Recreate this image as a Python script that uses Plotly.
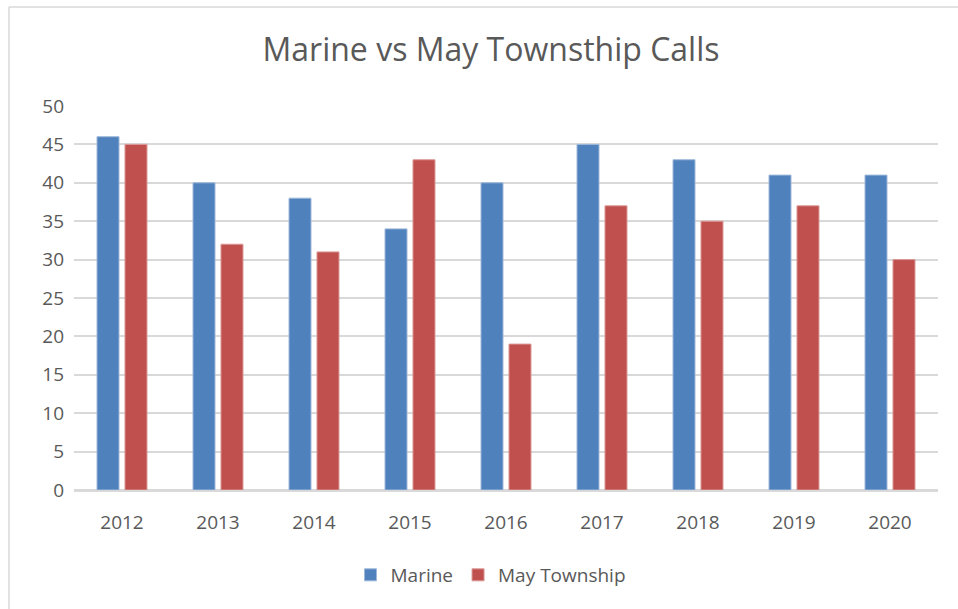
import plotly.graph_objects as go

years = ["2012", "2013", "2014", "2015", "2016", "2017", "2018", "2019", "2020"]
marine = [46, 40, 38, 34, 40, 45, 43, 41, 41]
may_township = [45, 32, 31, 43, 19, 37, 35, 37, 30]
y_ticks = [0, 5, 10, 15, 20, 25, 30, 35, 40, 45, 50]

W, H = 958, 609
L, R, T, B = 74, 20, 106, 119
pw, ph = W - L - R, H - T - B

def px_x(x):
    return (x - L) / pw

def px_y(y):
    return (H - B - y) / ph

font_fam = "Open Sans, Noto Sans, sans-serif"
txt = "#595959"
border = "#D9D9D9"

fig = go.Figure()
fig.add_trace(go.Bar(x=years, y=marine, name="Marine",
                     marker=dict(color="#4F81BD", line=dict(color="#9DB8DA", width=1))))
fig.add_trace(go.Bar(x=years, y=may_township, name="May Township",
                     marker=dict(color="#C0504D", line=dict(color="#DA9896", width=1))))

fig.update_layout(
    width=W, height=H,
    margin=dict(l=L, r=R, t=T, b=B),
    paper_bgcolor="white", plot_bgcolor="white",
    barmode="group", bargap=0.417, bargroupgap=0.214,
    font=dict(family=font_fam, color=txt, size=18),
    title=dict(text="Marine vs May Townsthip Calls", x=491 / W, xanchor="center",
               y=1 - 50 / H, yanchor="middle",
               font=dict(size=32, color=txt, family=font_fam)),
    showlegend=True,
    legend=dict(orientation="h", x=px_x(491), xanchor="center", y=px_y(575), yanchor="middle",
                font=dict(size=19, color=txt), itemwidth=30, traceorder="normal"),
    xaxis=dict(showgrid=False, showline=True, linecolor=border, linewidth=1.5,
               ticks="", tickfont=dict(size=19, color=txt), ticklabelstandoff=14),
    yaxis=dict(range=[0, 50], tickvals=y_ticks, showgrid=True, gridcolor=border,
               gridwidth=1.5, zeroline=True, zerolinecolor=border, zerolinewidth=1.5,
               showline=False, ticks="", tickfont=dict(size=19, color=txt),
               ticklabelstandoff=9, fixedrange=True),
    shapes=[
        dict(type="line", xref="paper", yref="paper",
             x0=px_x(9), x1=px_x(9), y0=px_y(612), y1=px_y(7),
             line=dict(color=border, width=1.5), layer="below"),
        dict(type="line", xref="paper", yref="paper",
             x0=px_x(9), x1=px_x(962), y0=px_y(7), y1=px_y(7),
             line=dict(color=border, width=1.5), layer="below"),
    ],
)

fig.write_html("out.html", config={"displayModeBar": False},
               post_script="document.body.style.margin='0';document.body.style.overflow='hidden';")
